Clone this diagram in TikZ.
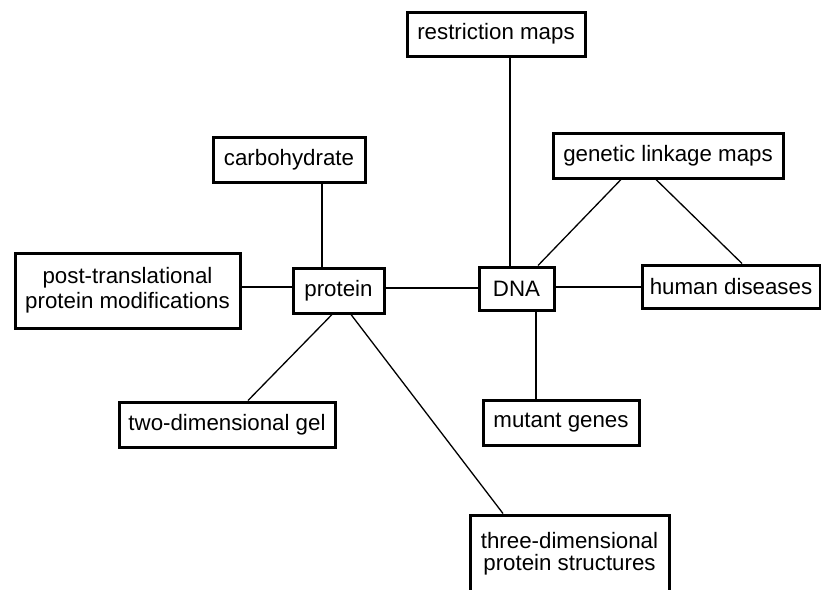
\documentclass[tikz,border=0pt]{standalone}
\usepackage{fontspec}
\setmainfont{Liberation Sans}
\begin{document}
\begin{tikzpicture}[x=1pt,y=-1pt,
  topic/.style={draw, line width=3pt, rectangle, inner sep=0pt, align=center,
    font=\fontsize{22.3}{22}\selectfont},
  link/.style={line width=1.3pt}]
\useasboundingbox (0,0) rectangle (821,589);
% boxes
\node[topic, minimum width=178, minimum height=44] (restr) at (496,34) {restriction maps};
\node[topic, minimum width=152, minimum height=45] (carb) at (289,159.5) {carbohydrate};
\node[topic, minimum width=230, minimum height=45] (link) at (668,155.5) {genetic linkage maps};
\node[topic, minimum width=225, minimum height=75] (ptm) at (127.5,290.5) {post-translational\\[3pt]protein modifications};
\node[topic, minimum width=91, minimum height=45] (prot) at (338.5,290.5) {protein};
\node[topic, minimum width=75, minimum height=43] (dna) at (516.5,288.5) {DNA};
\node[topic, minimum width=178, minimum height=43] (dis) at (731,286.5) {human diseases};
\node[topic, minimum width=156, minimum height=45] (mut) at (561,422.5) {mutant genes};
\node[topic, minimum width=216, minimum height=45] (gel) at (227,424.5) {two-dimensional gel};
\node[topic, minimum width=199, minimum height=78] (struct) at (569.5,554) {three-dimensional\\protein structures};
% connectors
\draw[link] ([xshift=33]carb.south) -- ([xshift=-16.5]prot.north);
\draw[link] ([yshift=3.5]ptm.east) -- ([yshift=3.5]prot.west);
\draw[link] ([yshift=2.5]prot.east) -- ([yshift=0.5]dna.west);
\draw[link] ([xshift=14]restr.south) -- ([xshift=-6.5]dna.north);
\draw[link] ([xshift=-47]link.south) -- ([xshift=21.5]dna.north);
\draw[link] ([xshift=-12]link.south) -- ([xshift=11]dis.north);
\draw[link] ([yshift=1.5]dna.east) -- ([yshift=-0.5]dis.west);
\draw[link] ([xshift=19.5]dna.south) -- ([xshift=-25]mut.north);
\draw[link] ([xshift=-6.5]prot.south) -- ([xshift=21]gel.north);
\draw[link] ([xshift=12.5]prot.south) -- ([xshift=-66.5]struct.north);
\end{tikzpicture}
\end{document}
